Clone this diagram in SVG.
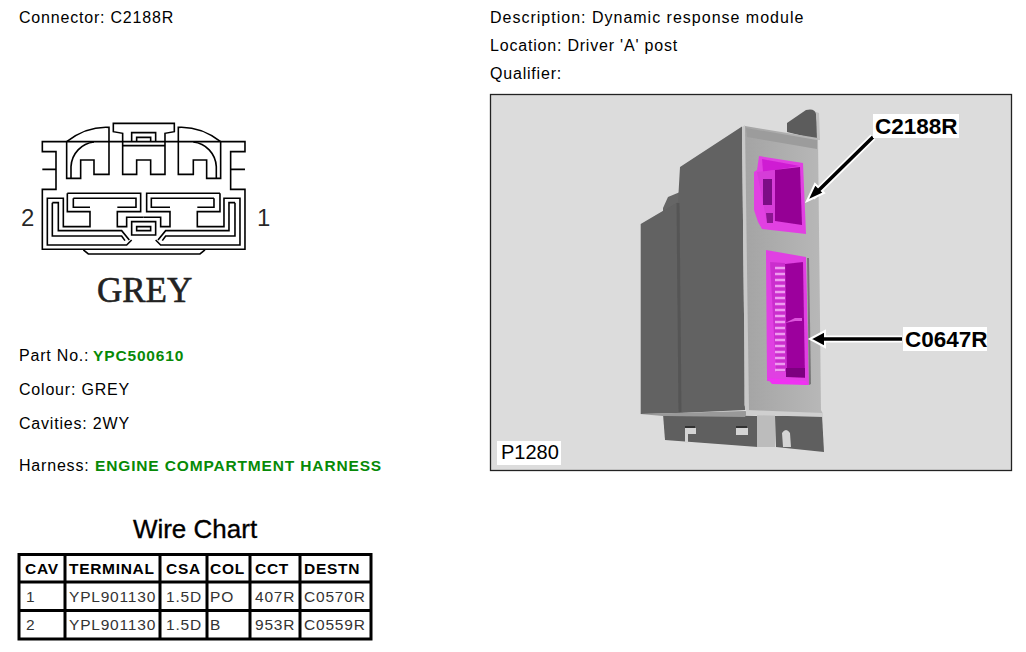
<svg xmlns="http://www.w3.org/2000/svg" width="1026" height="652" viewBox="0 0 1026 652">
<style>
text{font-family:"Liberation Sans",Arial,sans-serif;fill:#000}
.t{font-size:16px;letter-spacing:.8px}
.g{fill:#078a07;font-weight:bold;font-size:15.500px;letter-spacing:.85px}
.h{font-size:15.500px;font-weight:bold;letter-spacing:.7px}
.c{font-size:15.500px;letter-spacing:.8px}
.c text{fill:#333}
.l{fill:none;stroke:#000;stroke-width:4.8}
.call{font-size:22.500px;font-weight:bold}
</style>
<defs>
<filter id="soft" x="-5%" y="-5%" width="110%" height="110%"><feGaussianBlur stdDeviation=".55"/></filter>
<linearGradient id="plate" x1="0" x2="1" y1="0" y2="0"><stop offset="0" stop-color="#a4a4a4"/><stop offset="1" stop-color="#b8b8b8"/></linearGradient>
<path id="half" class="l" d="M170,95V205H212V150H252V193H297V52C260,50 215,60 170,95ZM183,205V170C185,130 215,100 252,96M172,250V305H240V350H160V265H112V405H350L365,390M127,278H145V362H335L358,390M127,278V378H335L345,392M172,250H392V305H322V350H350V322H401M190,265H378V292H322M190,265V292H240"/>
</defs>
<g id="headings">
<text class="t" x="19" y="23">Connector: C2188R</text>
<text class="t" x="490" y="23" style="letter-spacing:1px">Description: Dynamic response module</text>
<text class="t" x="490" y="51">Location: Driver 'A' post</text>
<text class="t" x="490" y="79">Qualifier:</text>
</g>
<g id="connector-drawing" transform="translate(10 110) scale(.3333)">
<path class="l" d="M170,95H97V125H138V238H97V418H705V238H662V125H705V95H632M97,178H138M662,178H705M170,95H632M220,420L235,432H570L585,420M338,95V193H380V150H422V193H465V95M338,107H465M338,95V70L310,65V40H493V65L465,70V95M365,95V68H437V95M380,95V82H422V95M365,335H437V375H365ZM380,350H422V362H380Z"/>
<use href="#half"/>
<use href="#half" transform="matrix(-1 0 0 1 802 0)"/>
</g>
<g id="connector-labels">
<text x="21" y="226" font-size="24" fill-opacity=".85">2</text>
<text x="257" y="226" font-size="24" fill-opacity=".85">1</text>
<text x="97" y="302" style="font-family:'Liberation Serif',serif;font-size:35px;fill:#222;stroke:#222;stroke-width:.6">GREY</text>
</g>
<g id="details">
<text class="t" x="19" y="361">Part No.: <tspan class="g" x="93">YPC500610</tspan></text>
<text class="t" x="19" y="395">Colour: GREY</text>
<text class="t" x="19" y="429">Cavities: 2WY</text>
<text class="t" x="19" y="471">Harness: <tspan class="g" x="95">ENGINE COMPARTMENT HARNESS</tspan></text>
</g>
<g id="wire-chart">
<text x="195" y="538" text-anchor="middle" font-size="26" stroke="#000" stroke-width=".35">Wire Chart</text>
<path fill="none" stroke="#000" stroke-width="3" d="M19,554.500H371V639H19ZM19,582H371M19,610.500H371M65,554.500V639M160,554.500V639M207,554.500V639M250,554.500V639M300,554.500V639"/>
<g class="h">
<text x="25" y="574">CAV</text><text x="69" y="574">TERMINAL</text><text x="166" y="574">CSA</text><text x="210" y="574">COL</text><text x="255" y="574">CCT</text><text x="304" y="574">DESTN</text>
</g>
<g class="c">
<text x="26" y="602">1</text><text x="69" y="602">YPL901130</text><text x="166" y="602">1.5D</text><text x="210" y="602">PO</text><text x="255" y="602">407R</text><text x="304" y="602">C0570R</text>
<text x="26" y="630">2</text><text x="69" y="630">YPL901130</text><text x="166" y="630">1.5D</text><text x="210" y="630">B</text><text x="255" y="630">953R</text><text x="304" y="630">C0559R</text>
</g>
</g>
<g id="photo">
<rect x="490.500" y="94.500" width="521" height="376" fill="#dcdcdc" stroke="#222" stroke-width="1.300"/>
<g filter="url(#soft)">
<path d="M787,123L806,110Q815,108 816,114L819,140L787,132Z" fill="#5c5c5c"/>
<path d="M816,112L819,113L820,140H817Z" fill="#c0c0c0"/>
<path d="M663,414L757,416L758,447L665,440Z" fill="#5e5e5e"/>
<path d="M775,416L822,415L824,452L776,447Z" fill="#5e5e5e"/>
<path d="M757,414H775V447L757,447Z" fill="#bcbcbc"/>
<path d="M663,208L668,197L680,192V210L663,215Z" fill="#666"/>
<path d="M640.700,224L678,202L680,167L742,126.500L745,410L680,413L640.700,414Z" fill="#626262"/>
<path d="M678,203L680,412" stroke="#555" stroke-width="3"/>
<path d="M640,414L745,411L748,412L745,417L663,416Z" fill="#999"/>
<path d="M745,126L818,138L821,410L823,414L748,412L744,405Z" fill="url(#plate)"/>
<path d="M746,128L817,140L817,149L747,137Z" fill="#9c9c9c"/>
<path d="M742,127L745,125L749,410H745Z" fill="#c8c8c8"/>
<path d="M746,410L823,413V417L746,415Z" fill="#cfcfcf"/>
<path d="M685,428h11v6h-8v9h-3ZM736,428h12v7h-12ZM782,433q4,-6 8,0l1,14h-8Z" fill="#d4d4d4"/>
<path d="M685,427h10M736,427h11" stroke="#222" stroke-width="1.500"/>
<path d="M759,156L803,163L806,234L762,229L758,222L754,210V172L757,170Z" fill="#e141e2"/>
<path d="M762,159L800,166L775,170L763,172Z" fill="#cf1fd3"/>
<path d="M775,170L800,167L802,225L775,221Z" fill="#950095"/>
<path d="M757,172L775,170V221L766,218Z" fill="#d63cd8"/>
<path d="M763,179h9v26h-9Z" fill="#7c1086"/>
<path d="M766,213h7v10h-6Z" fill="#8a1490"/>
<path d="M766,250L806,257L809,385L767,381Z" fill="#e040e2"/>
<path d="M807,258L809,385L811,384L809,258Z" fill="#777"/>
<path d="M785,264L803,262L805,378L786,377Z" fill="#9c059d"/>
<path d="M770,262L785,263L787,372L776,372Z" fill="#cb2fce"/>
<path d="M775,268h10M775,274h10M775,280h10M775,286h10M775,292h10M775,298h10M775,304h10M775,310h10M775,316h10M775,322h10M775,328h10M775,334h10M775,340h10M775,346h10M775,352h10M775,358h10M775,364h10M775,370h10" stroke="#ee9cf0" stroke-width="2.500"/>
<path d="M785,323L795,318H802V321H795Z" fill="#dd55dd"/>
<path d="M786,368h19v9h-19Z" fill="#7d0080"/>
<path d="M767,378L806,381L808,385L772,384Z" fill="#f030f2"/>
</g>
<path d="M873,137L812,197" stroke="#fff" stroke-width="7" fill="none"/>
<path d="M902,339H816" stroke="#fff" stroke-width="7" fill="none"/>
<path d="M807,201L824,193L815,184Z" fill="#000" stroke="#fff" stroke-width="2"/>
<path d="M810,339L825,331V347Z" fill="#000" stroke="#fff" stroke-width="2"/>
<path d="M873,137L818,191M902,339H822" stroke="#000" stroke-width="3.500"/>
<rect x="873" y="114" width="86" height="24" fill="#fff"/>
<rect x="903" y="327" width="84" height="24" fill="#fff"/>
<rect x="497" y="441" width="64" height="24" fill="#fff"/>
<text class="call" x="875" y="134">C2188R</text>
<text class="call" x="905" y="347">C0647R</text>
<text x="501" y="459" font-size="20">P1280</text>
</g>
</svg>
